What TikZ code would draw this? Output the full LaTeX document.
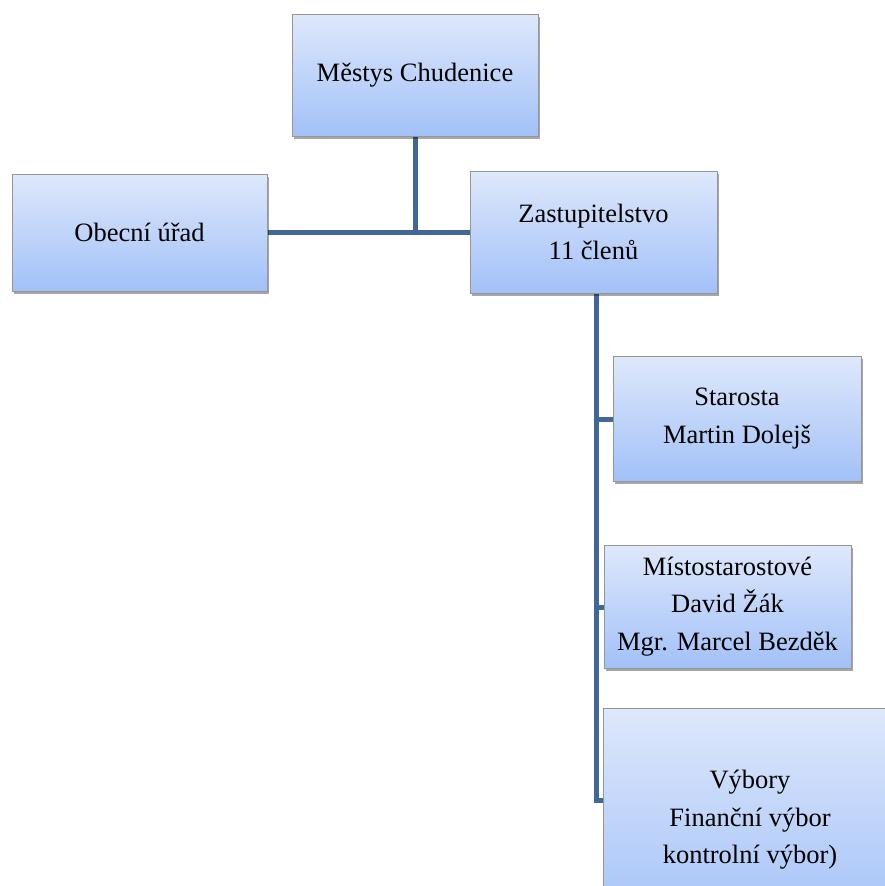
\documentclass[tikz,border=0pt]{standalone}
\usepackage{fontspec}
\setmainfont{Liberation Serif}
\newfontfamily\orgfont{Liberation Serif}
\usetikzlibrary{shadows}
\definecolor{connc}{RGB}{64,103,151}
\definecolor{boxtop}{RGB}{222,232,251}
\definecolor{boxbot}{RGB}{162,193,248}
\definecolor{boxedge}{RGB}{150,150,150}
\tikzset{
  orgbox/.style={draw=boxedge, line width=1pt, top color=boxtop, bottom color=boxbot,
    align=center, inner sep=0pt,
    font=\orgfont\fontsize{26.5}{37.5}\selectfont,
    drop shadow={shadow xshift=2pt, shadow yshift=-3pt, opacity=0.35, fill=black}},
  conn/.style={draw=connc, line width=5pt}
}
\begin{document}
\begin{tikzpicture}[x=1pt,y=-1pt]
\useasboundingbox (0,0) rectangle (885,886);
% connectors
\coordinate (trunktop) at (596,293);
\coordinate (trunkbot) at (596,800);
\coordinate (mestbot) at (415,136);
\coordinate (jn) at (415,232);
\draw[conn] (mestbot) -- (jn);
\draw[conn] (267,232) coordinate (obr) -- (470,232) coordinate (zal);
\draw[conn] (trunktop) -- (trunkbot) -- (603,800) coordinate (vyl);
\draw[conn] (596,419) coordinate (stj) -- (613,419) coordinate (stl);
\draw[conn] (596,607) coordinate (mij) -- (604,607) coordinate (mil);
% boxes
\node[orgbox, minimum width=246pt, minimum height=122pt] (mest) at (415,75) {Městys Chudenice};
\node[orgbox, minimum width=255pt, minimum height=117pt] (ob) at (139.5,232.5) {Obecní úřad};
\node[orgbox, minimum width=247pt, minimum height=122pt] (zas) at (593.5,232) {Zastupitelstvo\\11 členů};
\node[orgbox, minimum width=248pt, minimum height=125pt] (sta) at (737,418.5) {Starosta\\Martin Dolejš};
\node[orgbox, minimum width=247pt, minimum height=123pt] (mis) at (727.5,606.5) {Místostarostové\\David Žák\\Mgr. Marcel Bezděk};
\node[orgbox, minimum width=294pt, minimum height=224pt] (vyb) at (750,820) {Výbory\\Finanční výbor\\kontrolní výbor)};
\end{tikzpicture}
\end{document}
